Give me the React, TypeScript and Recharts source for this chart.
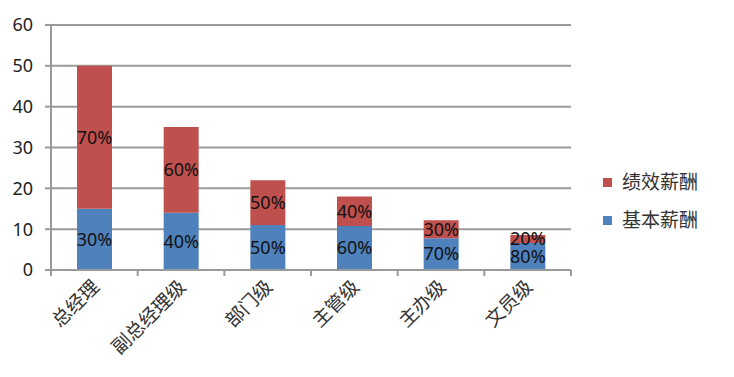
import React from 'react';
import { BarChart, Bar, XAxis, YAxis, CartesianGrid, LabelList } from 'recharts';

const categories = ['总经理', '副总经理级', '部门级', '主管级', '主办级', '文员级'];
const baseValues = [15, 14, 11, 10.8, 7.8, 6.6];
const perfValues = [35, 21, 11, 7.2, 4.4, 2];
const baseLabels = ['30%', '40%', '50%', '60%', '70%', '80%'];
const perfLabels = ['70%', '60%', '50%', '40%', '30%', '20%'];
const yTicks = [0, 10, 20, 30, 40, 50, 60];

const seriesNames = { base: '基本薪酬', perf: '绩效薪酬' };
const BLUE = '#4F81BD';
const RED = '#C0504D';
const GRID = '#9a9a9a';
const FONT = '"Noto Sans", "Noto Sans CJK SC", sans-serif';

const data = categories.map((name, i) => ({
  name,
  base: baseValues[i],
  perf: perfValues[i],
  baseLabel: baseLabels[i],
  perfLabel: perfLabels[i],
}));

const XTick = (props: any) => {
  const { x, y, payload, index } = props;
  const half = payload && payload.offset ? payload.offset : 43.3;
  const last = index === categories.length - 1;
  return (
    <g>
      <line x1={x - half} y1={y} x2={x - half} y2={y + 6} stroke={GRID} strokeWidth={2} />
      {last && <line x1={x + half} y1={y} x2={x + half} y2={y + 6} stroke={GRID} strokeWidth={2} />}
      <text
        x={x + 6}
        y={y + 18}
        textAnchor="end"
        fill="#333"
        fontSize={19}
        fontFamily={FONT}
        transform={`rotate(-45, ${x + 6}, ${y + 18})`}
      >
        {payload.value}
      </text>
    </g>
  );
};

const App = () => {
  return (
    <div style={{ position: 'absolute', left: 0, top: 0, width: 734, height: 377, background: '#fff', fontFamily: FONT }}>
      <BarChart width={734} height={377} data={data} margin={{ top: 25, right: 163, left: 0, bottom: 0 }}>
        <CartesianGrid vertical={false} stroke={GRID} strokeWidth={2} />
        <XAxis
          dataKey="name"
          height={107}
          interval={0}
          tickSize={0}
          tickMargin={0}
          tickLine={false}
          axisLine={{ stroke: GRID, strokeWidth: 2 }}
          tick={<XTick />}
        />
        <YAxis
          width={51}
          domain={[0, 60]}
          ticks={yTicks}
          tickSize={6}
          tickMargin={12}
          tickLine={{ stroke: GRID, strokeWidth: 2 }}
          axisLine={{ stroke: GRID, strokeWidth: 2 }}
          tick={{ fill: '#222', fontSize: 18, fontFamily: FONT }}
        />
        <Bar dataKey="base" stackId="a" fill={BLUE} barSize={35} isAnimationActive={false} name={seriesNames.base}>
          <LabelList dataKey="baseLabel" position="center" fill="#111" fontSize={18} fontFamily={FONT} />
        </Bar>
        <Bar dataKey="perf" stackId="a" fill={RED} barSize={35} isAnimationActive={false} name={seriesNames.perf}>
          <LabelList dataKey="perfLabel" position="center" fill="#111" fontSize={18} fontFamily={FONT} />
        </Bar>
      </BarChart>
      <div style={{ position: 'absolute', left: 603, top: 169, fontSize: 19, color: '#333', lineHeight: '27px' }}>
        {[
          { name: seriesNames.perf, color: RED },
          { name: seriesNames.base, color: BLUE },
        ].map((item) => (
          <div key={item.name} style={{ display: 'flex', alignItems: 'center', marginBottom: 11 }}>
            <span style={{ display: 'inline-block', width: 9, height: 9, background: item.color, marginRight: 10 }} />
            <span>{item.name}</span>
          </div>
        ))}
      </div>
    </div>
  );
};

export default App;
